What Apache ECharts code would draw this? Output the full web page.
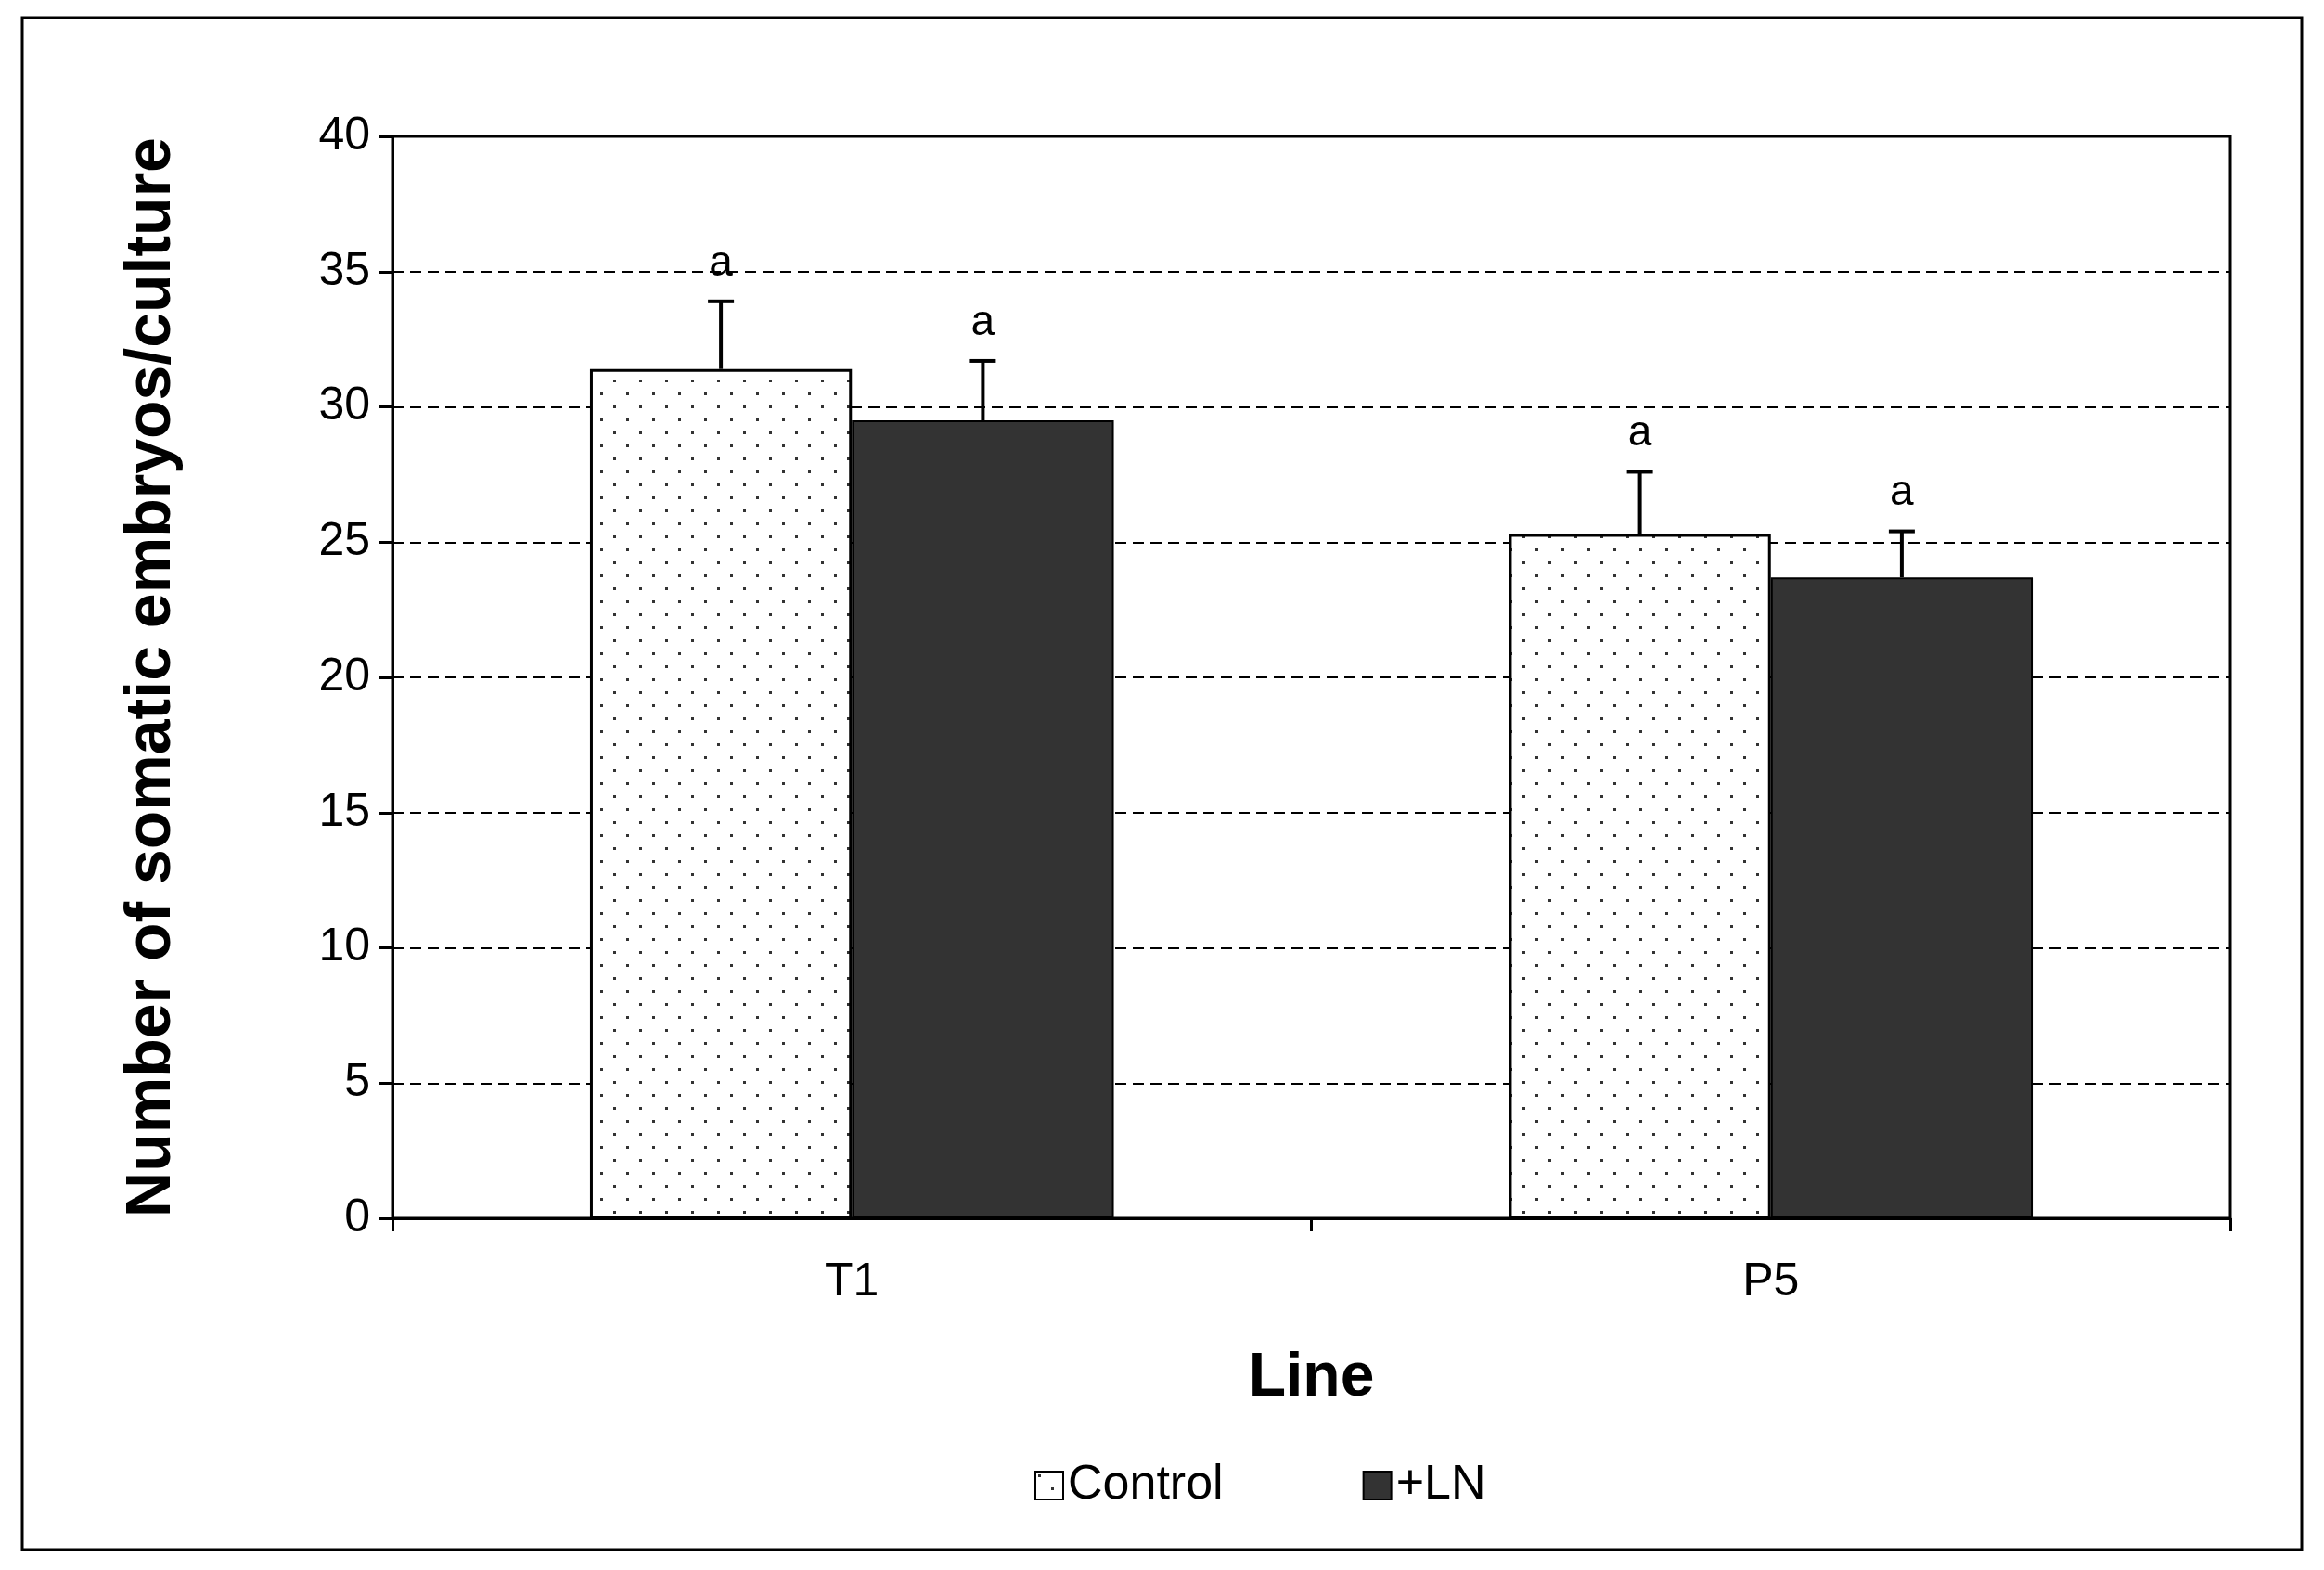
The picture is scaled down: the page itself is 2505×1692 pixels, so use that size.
<!DOCTYPE html>
<html><head><meta charset="utf-8">
<script src="https://cdn.jsdelivr.net/npm/echarts@6/dist/echarts.min.js"></script>
<style>html,body{margin:0;background:#fff}#c{width:2505px;height:1692px}</style>
</head><body><div id="c"></div>
<script>
// data
const lines = ['T1', 'P5'];
const controlMeans = [31.4, 25.3];
const controlErr = [2.5, 2.3];
const lnMeans = [29.5, 23.7];
const lnErr = [2.2, 1.7];
const sigLetters = ['a', 'a'];
const yTicks = { min: 0, max: 40, interval: 5 };

// dotted fill for the control bars
const pat = document.createElement('canvas');
pat.width = 28; pat.height = 28;
const pc = pat.getContext('2d');
pc.fillStyle = '#fff'; pc.fillRect(0, 0, 28, 28);
pc.fillStyle = '#333';
pc.fillRect(3, 3, 3, 3);
pc.fillRect(17, 17, 3, 3);

const font = 'Liberation Sans, Arial, sans-serif';
const chart = echarts.init(document.getElementById('c'));

function errSeries(means, errs, idx) {
  return {
    type: 'custom',
    name: 'err' + idx,
    z: 5,
    data: means.map((m, i) => [i, m, m + errs[i]]),
    renderItem: (params, api) => {
      const i = api.value(0);
      const base = api.coord([i, api.value(1)]);
      const top = api.coord([i, api.value(2)]);
      const bw = api.size([1, 0])[0] * 0.285;
      const x = base[0] + (idx === 0 ? -bw / 2 : bw / 2);
      return {
        type: 'group',
        children: [
          { type: 'line', shape: { x1: x, y1: base[1], x2: x, y2: top[1] }, style: { stroke: '#000', lineWidth: 4 } },
          { type: 'line', shape: { x1: x - 14, y1: top[1], x2: x + 14, y2: top[1] }, style: { stroke: '#000', lineWidth: 4 } },
          { type: 'text', x: x, y: top[1] - 18, style: { text: sigLetters[i], fontSize: 46, fontFamily: font, fill: '#000', align: 'center', verticalAlign: 'bottom' } }
        ]
      };
    }
  };
}

chart.setOption({
  animation: false,
  graphic: [{ type: 'rect', shape: { x: 24, y: 19, width: 2457, height: 1651 }, style: { fill: 'none', stroke: '#000', lineWidth: 3 } }],
  grid: { left: 423, right: 101, top: 147, bottom: 379, show: true, borderColor: '#000', borderWidth: 3 },
  legend: {
    data: ['Control', '+LN'],
    bottom: 60, left: 1110,
    itemWidth: 30, itemHeight: 30, itemGap: 150,
    icon: 'rect',
    textStyle: { fontSize: 52, fontFamily: font, color: '#000' }
  },
  xAxis: {
    type: 'category', data: lines,
    name: 'Line', nameLocation: 'middle', nameGap: 140,
    nameTextStyle: { fontSize: 66, fontWeight: 'bold', fontFamily: font, color: '#000' },
    axisLine: { lineStyle: { color: '#000', width: 3 } },
    axisTick: { show: true, length: 14, lineStyle: { color: '#000', width: 3 } },
    axisLabel: { fontSize: 50, fontFamily: font, color: '#000', margin: 44 }
  },
  yAxis: {
    type: 'value', min: yTicks.min, max: yTicks.max, interval: yTicks.interval,
    name: 'Number of somatic embryos/culture', nameLocation: 'middle', nameGap: 225,
    nameTextStyle: { fontSize: 68, fontWeight: 'bold', fontFamily: font, color: '#000' },
    axisLine: { show: true, lineStyle: { color: '#000', width: 3 } },
    axisTick: { show: true, inside: false, length: 14, lineStyle: { color: '#000', width: 3 } },
    axisLabel: { fontSize: 50, fontFamily: font, color: '#000', margin: 24 },
    splitLine: { lineStyle: { color: '#000', type: [12, 7], width: 2 } }
  },
  series: [
    { type: 'bar', name: 'Control', data: controlMeans, barWidth: '28.5%', barGap: '0%',
      itemStyle: { color: { image: pat, repeat: 'repeat' }, borderColor: '#000', borderWidth: 3 } },
    { type: 'bar', name: '+LN', data: lnMeans, barWidth: '28.5%',
      itemStyle: { color: '#333', borderColor: '#000', borderWidth: 2 } },
    errSeries(controlMeans, controlErr, 0),
    errSeries(lnMeans, lnErr, 1)
  ]
});
</script></body></html>
